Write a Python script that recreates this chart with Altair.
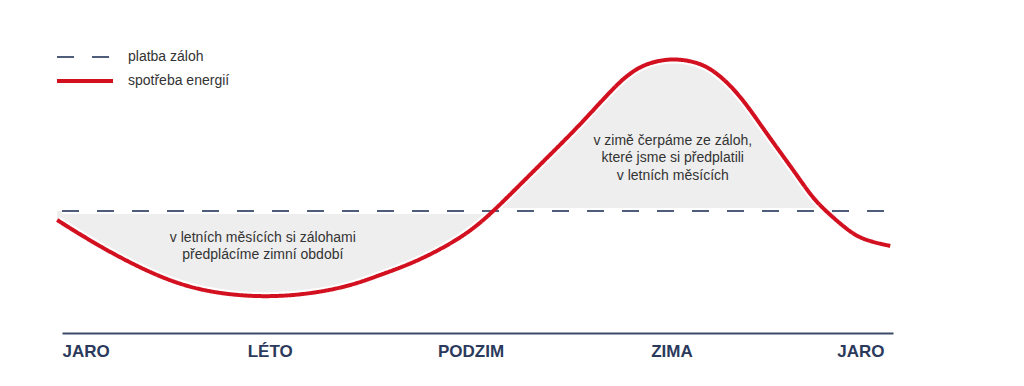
import altair as alt
import pandas as pd

# --- data ---
mesic = [-0.07, 0.55, 1.27, 1.85, 2.43, 3.00, 3.58, 4.16, 4.59, 5.07, 5.56, 5.94, 6.23,
         6.51, 7.00, 7.48, 7.96, 8.20, 8.45, 8.82, 9.17, 9.40, 9.65, 9.89, 10.12, 10.37,
         10.61, 10.84, 11.03, 11.34, 11.57, 11.96]
spotreba = [94.0, 76.0, 58.7, 48.7, 44.0, 42.7, 44.7, 50.0, 57.3, 65.3, 76.7, 88.0, 100,
            112.7, 135.3, 157.3, 182.0, 192.0, 198.7, 202.0, 199.3, 194.0, 184.0, 170.7, 155.3, 139.3,
            124.0, 108.7, 100, 87.3, 80.7, 76.7]
zaloha_mesic = [0, 12]
zaloha_hodnota = 100
serie = ["platba záloh", "spotřeba energií"]

obdobi = ["JARO", "LÉTO", "PODZIM", "ZIMA", "JARO"]
obdobi_pos = [0, 3.0, 5.9, 8.8, 11.87]

popisky = ["v letních měsících si zálohami", "předplácíme zimní období",
           "v zimě čerpáme ze záloh,", "které jsme si předplatili", "v letních měsících"]
popisky_x = [2.9, 2.9, 8.82, 8.82, 8.82]
popisky_y = [81.8, 70.7, 146.7, 135, 123.3]

fill_end = 11.03

# --- tables ---
curve = pd.DataFrame({"m": mesic, "v": spotreba, "s": serie[1]})
dash = pd.DataFrame({"m": zaloha_mesic, "v": [zaloha_hodnota] * len(zaloha_mesic), "s": serie[0]})
lines = pd.concat([dash, curve], ignore_index=True)
area_df = curve[curve["m"] <= fill_end].assign(b=zaloha_hodnota)
texts = pd.DataFrame({"m": popisky_x, "v": popisky_y, "t": popisky})

labels_js = "[" + ",".join("'%s'" % o for o in obdobi) + "]"
pos_js = "[" + ",".join(str(p) for p in obdobi_pos) + "]"

xs = alt.X("m:Q", scale=alt.Scale(domain=[0, 12], nice=False, zero=False),
           axis=alt.Axis(values=obdobi_pos, title=None, grid=False, ticks=False,
                         domainColor="#3d4b6b", domainWidth=2,
                         labelFont="Liberation Sans", labelFontSize=17, labelFontWeight="bold",
                         labelColor="#2b3a5c", labelPadding=10, labelFlush=10,
                         labelExpr=f"{labels_js}[indexof({pos_js}, datum.value)]"))
ys = alt.Y("v:Q", scale=alt.Scale(domain=[18.667, 235.333], nice=False, zero=False), axis=None)

interp = "basis"

area = alt.Chart(area_df).mark_area(color="#eeeeee", interpolate=interp).encode(
    x=xs, y=ys, y2=alt.Y2("b:Q"))

dash_halo = alt.Chart(dash).mark_line(color="white", strokeWidth=6).encode(x=xs, y=ys)
curve_halo = alt.Chart(curve).mark_line(color="white", strokeWidth=8,
                                        interpolate=interp).encode(x=xs, y=ys)

legend = alt.Legend(title=None, orient="none", legendX=-7, legendY=39, symbolType="stroke",
                    symbolSize=3136, labelFontSize=14, labelColor="#333333", labelOffset=13,
                    clipHeight=20, rowPadding=4, padding=0, labelFont="Liberation Sans")

main = alt.Chart(lines).mark_line(interpolate=interp, strokeCap="butt").encode(
    x=xs, y=ys,
    color=alt.Color("s:N", scale=alt.Scale(domain=serie, range=["#4e5d7a", "#d3101f"]), legend=legend),
    strokeDash=alt.StrokeDash("s:N", scale=alt.Scale(domain=serie, range=[[17, 18], [1, 0]]), legend=legend),
    strokeWidth=alt.StrokeWidth("s:O", scale=alt.Scale(domain=serie, range=[2, 4]), legend=legend),
    detail="s:N",
)

txt = alt.Chart(texts).mark_text(font="Liberation Sans", fontSize=14, color="#333333",
                                 align="center", baseline="middle").encode(
    x=xs, y=ys, text="t:N")

chart = alt.layer(area, dash_halo, curve_halo, main, txt).properties(
    width=831, height=325,
    autosize=alt.AutoSizeParams(type="none"),
    padding={"left": 54, "top": 0, "right": 100, "bottom": 40},
).configure_view(stroke=None)

chart.save("out.html", embed_options={"renderer": "svg", "actions": False})
